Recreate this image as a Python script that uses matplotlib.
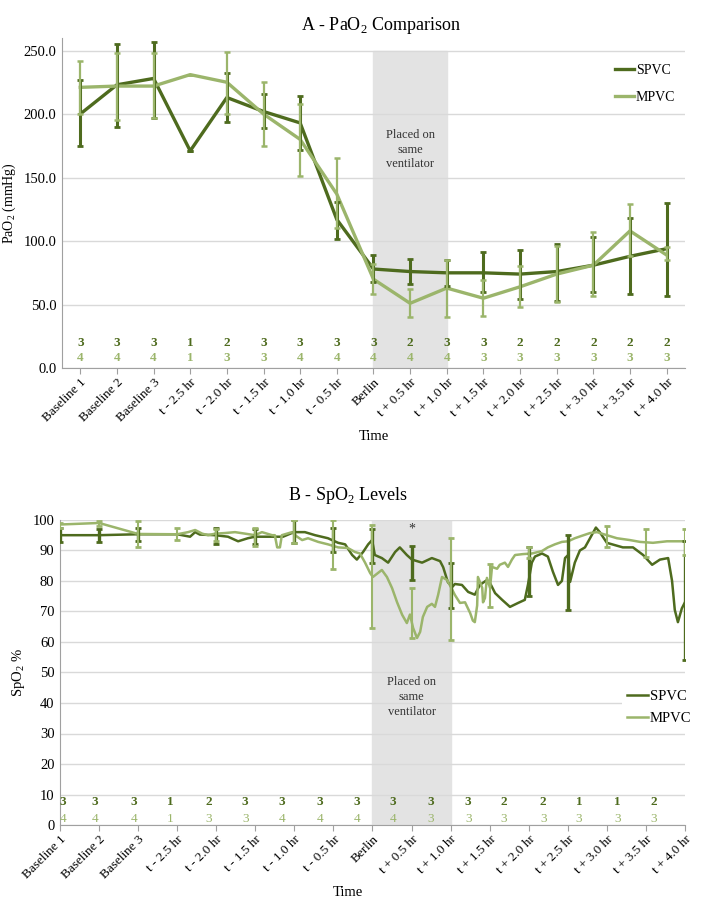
import matplotlib.pyplot as plt
import numpy as np

plt.rcParams['font.family'] = ['Liberation Serif', 'DejaVu Serif']
plt.rcParams['mathtext.fontset'] = 'custom'
plt.rcParams['mathtext.rm'] = 'Liberation Serif'

DARK = '#4E6B1E'
LIGHT = '#9BB56B'
GRID = '#d9d9d9'
SHADE = '#e3e3e3'

categories = ['Baseline 1', 'Baseline 2', 'Baseline 3', 't - 2.5 hr', 't - 2.0 hr',
              't - 1.5 hr', 't - 1.0 hr', 't - 0.5 hr', 'Berlin', 't + 0.5 hr',
              't + 1.0 hr', 't + 1.5 hr', 't + 2.0 hr', 't + 2.5 hr', 't + 3.0 hr',
              't + 3.5 hr', 't + 4.0 hr']

# panel A - PaO2 means and error bar ends
spvc_pao2 = [200, 223, 228, 171, 213, 202, 193, 117, 78, 76, 75, 75, 74, 76, 81, 88, 94]
spvc_lo = [175, 190, 197, 171, 194, 189, 172, 102, 68, 66, 65, 60, 54, 53, 60, 58, 57]
spvc_hi = [227, 255, 257, 171, 232, 216, 214, 131, 89, 86, 85, 91, 93, 98, 103, 118, 130]
mpvc_pao2 = [221, 222, 222, 231, 225, 200, 180, 137, 70, 51, 63, 55, 64, 74, 81, 108, 89]
mpvc_lo = [200, 195, 197, 231, 200, 175, 151, 110, 58, 40, 40, 41, 48, 52, 57, 88, 85]
mpvc_hi = [242, 248, 248, 231, 249, 225, 208, 165, 82, 62, 85, 69, 80, 96, 107, 129, 95]
n_spvc_a = [3, 3, 3, 1, 2, 3, 3, 3, 3, 2, 3, 3, 2, 2, 2, 2, 2]
n_mpvc_a = [4, 4, 4, 1, 3, 3, 4, 4, 4, 4, 4, 3, 3, 3, 3, 3, 3]

# panel B - continuous SpO2 traces (time in category units)
spvc_t = [0.00, 1.00, 2.00, 3.00, 3.33, 3.46, 3.58, 3.97, 4.30, 4.56, 4.81, 4.99, 5.43,
          5.71, 5.99, 6.27, 6.53, 6.86, 7.12, 7.30, 7.48, 7.60, 7.76, 7.89, 7.99, 8.06,
          8.24, 8.40, 8.58, 8.70, 8.88, 9.01, 9.27, 9.52, 9.73, 9.81, 9.93, 10.04, 10.11,
          10.29, 10.45, 10.62, 10.75, 10.93, 11.01, 11.14, 11.32, 11.52, 11.73, 11.90,
          11.98, 12.08, 12.16, 12.34, 12.49, 12.62, 12.75, 12.85, 12.93, 13.01, 13.06,
          13.18, 13.31, 13.44, 13.57, 13.72, 13.82, 14.00, 14.41, 14.67, 14.93, 15.16,
          15.36, 15.57, 15.67, 15.74, 15.82, 15.92, 16.00]
spvc_spo2 = [95.0, 95.0, 95.3, 95.3, 94.5, 96.0, 95.2, 95.0, 94.5, 93.0, 94.0, 94.5, 94.5,
             94.5, 96.0, 96.0, 95.0, 94.0, 92.5, 92.0, 88.5, 87.0, 89.5, 92.0, 93.4, 88.5,
             87.5, 86.0, 89.5, 91.0, 88.5, 87.0, 86.0, 87.5, 86.5, 84.5, 79.6, 78.0, 79.0,
             78.7, 76.4, 75.5, 78.7, 80.3, 79.3, 76.0, 73.8, 71.5, 72.8, 73.8,
             78.7, 86.0, 88.0, 89.0, 88.0, 83.0, 78.7, 80.0, 87.5, 88.5, 79.7,
             86.0, 90.0, 91.0, 94.0, 97.5, 96.0, 92.5, 91.0, 91.0, 88.5, 85.3,
             87.0, 87.5, 80.0, 70.5, 66.5, 71.0, 73.0]
mpvc_t = [0.00, 1.00, 2.00, 3.00, 3.28, 3.46, 3.64, 3.79, 3.97, 4.22, 4.48, 4.74, 4.99,
          5.17, 5.43, 5.50, 5.56, 5.63, 5.68, 5.94, 6.07, 6.20, 6.35, 6.61, 6.86, 7.12,
          7.37, 7.55, 7.68, 7.81, 7.94, 8.01, 8.14, 8.24, 8.37, 8.50, 8.63, 8.76, 8.88,
          8.96, 9.04, 9.14, 9.22, 9.29, 9.40, 9.52, 9.60, 9.68, 9.78, 9.91, 9.98, 10.11,
          10.24, 10.37, 10.50, 10.57, 10.62, 10.68, 10.70, 10.81, 10.83, 10.88, 10.93,
          11.01, 11.06, 11.19, 11.26, 11.39, 11.47, 11.57, 11.65, 11.85, 12.08, 12.34,
          12.49, 12.67, 12.85, 13.01, 13.18, 13.36, 13.57, 13.75, 14.00, 14.26, 14.59,
          14.85, 15.18, 15.54, 16.00]
mpvc_spo2 = [98.5, 99.0, 95.4, 95.3, 96.0, 96.7, 95.5, 95.0, 95.5, 95.7, 96.0, 95.5, 95.0,
             96.0, 95.0, 95.0, 91.0, 91.0, 95.0, 96.0, 94.5, 93.4, 94.0, 92.8, 92.0, 91.0,
             90.8, 89.5, 89.0, 86.0, 82.6, 81.3, 82.6, 83.6, 81.3, 77.7, 73.0, 68.9, 66.2,
             69.0, 64.6, 61.3, 63.3, 68.2, 71.5, 72.5, 71.5, 75.4, 81.3, 80.3, 78.7, 75.4,
             72.8, 73.0, 69.5, 67.0, 66.5, 72.0, 81.3, 77.7, 73.0, 74.4, 81.0,
             77.7, 84.6, 84.0, 85.3, 86.0, 84.6, 87.0, 88.5, 88.8, 89.0, 89.8,
             91.0, 92.0, 92.8, 93.0, 94.0, 94.8, 95.7, 96.0, 95.0, 94.0, 93.4,
             92.8, 92.5, 93.0, 93.0]

# panel B error bars (position, low, high)
spvc_err_x = [0, 1, 2, 4, 5, 6, 7, 8, 9, 10, 12, 13, 16]
spvc_err_lo = [92.8, 92.8, 93.0, 92.0, 92.0, 92.5, 89.5, 86.0, 80.3, 71.0, 75.0, 70.5, 54.0]
spvc_err_hi = [97.4, 97.0, 97.5, 97.4, 97.0, 100.0, 97.4, 97.0, 91.5, 86.0, 91.0, 95.0, 93.0]
mpvc_err_x = [0, 1, 2, 3, 4, 5, 6, 7, 8, 9, 10, 11, 12, 14, 15, 16]
mpvc_err_lo = [97.5, 98.0, 91.0, 93.4, 93.0, 91.5, 92.5, 84.0, 64.6, 61.3, 60.6, 71.5, 87.5, 91.0, 88.0, 88.5]
mpvc_err_hi = [99.0, 99.5, 99.5, 97.4, 97.0, 97.5, 100.0, 100.0, 98.4, 77.7, 94.0, 85.6, 91.0, 98.0, 97.0, 97.0]
count_x_b = [0.08, 0.9, 1.9, 2.82, 3.8, 4.74, 5.68, 6.66, 7.6, 8.53, 9.5, 10.45, 11.37,
             12.37, 13.29, 14.28, 15.2]
n_spvc_b = [3, 3, 3, 1, 2, 3, 3, 3, 3, 3, 3, 3, 2, 2, 1, 1, 2]
n_mpvc_b = [4, 4, 4, 1, 3, 3, 4, 4, 4, 4, 3, 3, 3, 3, 3, 3, 3]


def style_axes(ax):
    for side in ['top', 'right']:
        ax.spines[side].set_visible(False)
    for side in ['left', 'bottom']:
        ax.spines[side].set_color('#a0a0a0')
    ax.tick_params(axis='y', length=0, labelsize=10.5, pad=4)
    ax.tick_params(axis='x', length=4, color='#a0a0a0', labelsize=9.5, pad=2)
    ax.set_axisbelow(True)


def draw_err(ax, x, lo, hi, color, lw):
    lo = np.asarray(lo, dtype=float)
    hi = np.asarray(hi, dtype=float)
    mid = (lo + hi) / 2
    ax.errorbar(x, mid, yerr=(hi - lo) / 2, fmt='none', ecolor=color,
                elinewidth=lw, capsize=2.2, capthick=2, zorder=4)


fig = plt.figure(figsize=(7.12, 9), dpi=100)

# ---- panel A ----
ax1 = fig.add_axes([0.087, 0.591, 0.875, 0.367])
xa = np.arange(len(categories))
ax1.axvspan(8, 10, ymin=0, ymax=250 / 260, color=SHADE, zorder=0)
ax1.plot(xa, spvc_pao2, color=DARK, lw=2.4, label='SPVC', zorder=3)
ax1.plot(xa, mpvc_pao2, color=LIGHT, lw=2.4, label='MPVC', zorder=3)
sp = np.array(spvc_pao2, dtype=float)
mp = np.array(mpvc_pao2, dtype=float)
ax1.errorbar(xa, sp, yerr=[sp - spvc_lo, np.array(spvc_hi) - sp], fmt='none',
             ecolor=DARK, elinewidth=2.2, capsize=2.2, capthick=2, zorder=4)
ax1.errorbar(xa, mp, yerr=[mp - mpvc_lo, np.array(mpvc_hi) - mp], fmt='none',
             ecolor=LIGHT, elinewidth=1.6, capsize=2.2, capthick=1.8, zorder=4)
for i in range(len(categories)):
    ax1.text(xa[i], 20, str(n_spvc_a[i]), color=DARK, ha='center', va='center',
             fontsize=9.5, fontweight='bold')
    ax1.text(xa[i], 8, str(n_mpvc_a[i]), color=LIGHT, ha='center', va='center',
             fontsize=9.5, fontweight='bold')
ax1.text(9, 172, 'Placed on\nsame\nventilator', ha='center', va='center',
         fontsize=9, color='#333333', linespacing=1.3)
ax1.set_xlim(-0.5, 16.5)
ax1.set_ylim(0, 260)
ax1.set_yticks(np.arange(0, 251, 50))
ax1.set_yticklabels([f'{v:.1f}' for v in np.arange(0, 251, 50)])
ax1.set_xticks(xa)
ax1.set_xticklabels(categories, rotation=45, ha='right', rotation_mode='anchor')
ax1.grid(axis='y', color=GRID, lw=1)
style_axes(ax1)
ax1.set_ylabel('PaO$_2$ (mmHg)', fontsize=10)
ax1.set_xlabel('Time', fontsize=10.5, labelpad=4)
ax1.legend(loc='upper left', bbox_to_anchor=(0.872, 0.95), frameon=False,
           fontsize=10, handlelength=1.4, handletextpad=0.1, labelspacing=1.0,
           borderpad=0.2)
fig.text(0.535, 0.972, 'A - PaO$_2$ Comparison', ha='center', va='center', fontsize=13)

# ---- panel B ----
ax2 = fig.add_axes([0.0843, 0.0833, 0.8777, 0.339])
ax2.axvspan(8, 10, color=SHADE, zorder=0)
ax2.plot(spvc_t, spvc_spo2, color=DARK, lw=1.8, label='SPVC', zorder=3)
ax2.plot(mpvc_t, mpvc_spo2, color=LIGHT, lw=1.8, label='MPVC', zorder=3)
draw_err(ax2, spvc_err_x, spvc_err_lo, spvc_err_hi, DARK, 2.4)
draw_err(ax2, mpvc_err_x, mpvc_err_lo, mpvc_err_hi, LIGHT, 1.5)
for i in range(len(count_x_b)):
    ax2.text(count_x_b[i], 7.5, str(n_spvc_b[i]), color=DARK, ha='center', va='center',
             fontsize=9.5, fontweight='bold')
    ax2.text(count_x_b[i], 2.0, str(n_mpvc_b[i]), color=LIGHT, ha='center', va='center',
             fontsize=9.5)
ax2.text(9, 97, '*', ha='center', va='center', fontsize=10, color='#333333')
ax2.text(9, 42, 'Placed on\nsame\nventilator', ha='center', va='center',
         fontsize=9, color='#333333', linespacing=1.3)
ax2.set_xlim(0, 16)
ax2.set_ylim(0, 100)
ax2.set_yticks(np.arange(0, 101, 10))
ax2.set_xticks(np.arange(len(categories)))
ax2.set_xticklabels(categories, rotation=45, ha='right', rotation_mode='anchor')
ax2.grid(axis='y', color=GRID, lw=1)
style_axes(ax2)
ax2.set_ylabel('SpO$_2$ %', fontsize=10.5)
ax2.set_xlabel('Time', fontsize=10.5, labelpad=2)
ax2.xaxis.set_label_coords(0.46, -0.2)
ax2.legend(loc='upper left', bbox_to_anchor=(0.888, 0.48), frameon=True,
           facecolor='white', edgecolor='none', framealpha=1, fancybox=False,
           fontsize=10.5, handlelength=1.5, handletextpad=0.1, labelspacing=0.6,
           borderpad=0.3)
fig.text(0.488, 0.45, 'B - SpO$_2$ Levels', ha='center', va='center', fontsize=13)

fig.savefig('out.png', dpi=100)
